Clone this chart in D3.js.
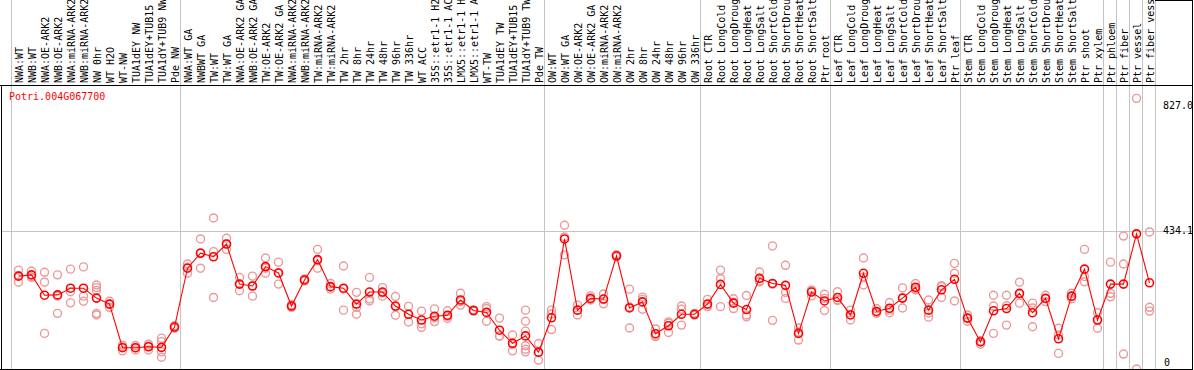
<!DOCTYPE html>
<html>
<head>
<meta charset="utf-8">
<script src="https://cdn.jsdelivr.net/npm/d3@7"></script>
<style>
html,body{margin:0;padding:0;background:#fff;}
svg{display:block;}
text{font-family:"DejaVu Sans Mono","Liberation Mono",monospace;}
</style>
</head>
<body>
<svg id="chart" width="1194" height="370"></svg>
<script>
const title = "Potri.004G067700";
const labels = [
"NWA:WT","NWB:WT","NWA:OE-ARK2","NWB:OE-ARK2","NWA:miRNA-ARK2","NWB:miRNA-ARK2","NW 0hr","WT H2O","WT-NW","TUA1dEY NW","TUA1dEY+TUB15 NW","TUA1dY+TUB9 NW","Pde NW",
"NWA:WT GA","NWBWT GA","TW:WT","TW:WT GA","NWA:OE-ARK2 GA","NWB:OE-ARK2 GA","TW:OE-ARK2","TW:OE-ARK2 GA","NWA:miRNA-ARK2 GA","NWB:miRNA-ARK2 GA","TW:miRNA-ARK2","TW:miRNA-ARK2 GA","TW 2hr","TW 8hr","TW 24hr","TW 48hr","TW 96hr","TW 336hr","WT ACC","35S::etr1-1 H2O","35S::etr1-1 ACC","LMX5::etr1-1 H2O","LMX5::etr1-1 ACC","WT-TW","TUA1dEY TW","TUA1dEY+TUB15 TW","TUA1dY+TUB9 TW","Pde TW",
"OW:WT","OW:WT GA","OW:OE-ARK2","OW:OE-ARK2 GA","OW:miRNA-ARK2","OW:miRNA-ARK2 GA","OW 2hr","OW 8hr","OW 24hr","OW 48hr","OW 96hr","OW 336hr",
"Root CTR","Root LongCold","Root LongDrought","Root LongHeat","Root LongSalt","Root ShortCold","Root ShortDrought","Root ShortHeat","Root ShortSalt","Ptr root",
"Leaf CTR","Leaf LongCold","Leaf LongDrought","Leaf LongHeat","Leaf LongSalt","Leaf ShortCold","Leaf ShortDrought","Leaf ShortHeat","Leaf ShortSalt","Ptr leaf",
"Stem CTR","Stem LongCold","Stem LongDrought","Stem LongHeat","Stem LongSalt","Stem ShortCold","Stem ShortDrought","Stem ShortHeat","Stem ShortSalt","Ptr shoot","Ptr xylem",
"Ptr phloem","Ptr fiber","Ptr vessel","Ptr fiber vessel"
];
const means = [
292,296,232,233,254,254,223,204,67,67,70,68,132,
317,364,353,393,267,261,322,302,198,280,344,259,254,204,242,242,198,172,154,166,169,217,184,178,122,81,104,53,
161,409,185,222,220,356,192,211,111,136,172,172,
204,266,207,187,285,269,263,112,242,214,
225,170,301,181,191,223,257,185,249,282,
160,85,183,190,238,177,222,95,229,314,154,
267,267,425,271
];
const replicates = [
[311,273,293],[308,288,290],[304,273,112],[296,175,229],[314,243,208],[321,229,213],[264,256,247,175,170],[213,194,204],[75,57,69],[74,60,67],[78,60,72],[97,86,37,54],[136,128,133],
[330,301,320],[409,317,366],[475,369,225],[411,376,393],[288,246,267],[292,229,261],[349,301,317],[336,267,302],[194,202,198],[283,277,280],[376,317,341],[269,251,257],[324,185,252],[241,194,172],[288,220,214],[256,229,239],[228,169,196],[197,148,172],[182,142,131],[189,149,161],[183,159,165],[238,201,212],[186,182,184],[196,150,190],[160,104,103],[107,57,77],[185,150,119,73,62,54],[80,28,51],
[185,124,173],[452,359,415],[201,170,185],[230,217,219],[236,205,219],[359,353,356],[251,129,195],[226,188,219],[126,102,105],[148,115,144],[198,188,138],[175,169,172],
[219,196,197],[311,284,196],[221,190,210],[231,170,164],[305,274,277],[387,153,267],[326,241,222],[129,91,116],[247,230,248],[235,184,222],
[243,217,216],[185,154,171],[349,264,289],[190,175,179],[209,177,185],[255,192,223],[269,249,253],[217,163,176],[262,225,259],[332,301,214],
[170,150,160],[78,88,88],[232,198,112],[232,138,199],[273,207,235],[207,133,192],[232,212,222],[128,49,107],[238,221,228],[376,274,291],[177,128,156],
[336,238,227],[418,330,47],[851,0],[431,194,182]
];
const yTickValues = [0, 434.1, 827.0];
const yTickLabels = ["0", "434.1", "827.0"];
const groupStarts = [0, 13, 41, 53, 63, 73, 84, 85, 86, 87, 88];

const W = 1194, H = 370;
const plotTop = 85, plotBottom = 369, left = 11, colW = 13;
const svg = d3.select("#chart");

const x = d3.scaleBand().domain(d3.range(labels.length)).range([left, left + colW * labels.length]).paddingInner(0).paddingOuter(0);
const px = i => x(i) + 7.5;
const y = d3.scaleLinear().domain([0, 893]).range([plotBottom, plotTop]);

// gridlines
const gridColor = "#c4c4c4";
svg.append("g").selectAll("line").data(groupStarts).join("line")
  .attr("x1", d => (d < labels.length ? x(d) : x(labels.length - 1) + colW) + 0.5)
  .attr("x2", d => (d < labels.length ? x(d) : x(labels.length - 1) + colW) + 0.5)
  .attr("y1", 0).attr("y2", H)
  .attr("stroke", gridColor).attr("stroke-width", 1).attr("shape-rendering", "crispEdges");

svg.append("line")
  .attr("x1", 1).attr("x2", 1192)
  .attr("y1", Math.round(y(434.1)) + 0.5).attr("y2", Math.round(y(434.1)) + 0.5)
  .attr("stroke", gridColor).attr("shape-rendering", "crispEdges");

// column labels
svg.append("g").selectAll("text").data(labels).join("text")
  .attr("transform", (d, i) => `translate(${px(i) + 0.5},83) rotate(-90)`)
  .attr("dy", "0.35em")
  .attr("font-size", 10)
  .attr("fill", "#000")
  .text(d => d);

// y tick labels
svg.append("g").selectAll("text").data(yTickValues).join("text")
  .attr("x", (d, i) => i === 0 ? 1164 : 1163)
  .attr("y", d => d === 0 ? plotBottom - 7 : y(d))
  .attr("dy", "0.35em")
  .attr("font-size", 10)
  .attr("fill", "#000")
  .text((d, i) => yTickLabels[i]);

// title
svg.append("text").attr("x", 9).attr("y", 100).attr("font-size", 10).attr("fill", "#ff0000").text(title);

// replicates
const repPts = [];
replicates.forEach((arr, i) => arr.forEach(v => repPts.push({i, v})));
svg.append("g").selectAll("circle").data(repPts).join("circle")
  .attr("cx", d => px(d.i)).attr("cy", d => y(d.v)).attr("r", 4)
  .attr("fill", "none").attr("stroke", "#eb9a9a").attr("stroke-width", 1.4);

// mean line
svg.append("path").datum(means)
  .attr("d", d3.line().x((d, i) => px(i)).y(d => y(d)))
  .attr("fill", "none").attr("stroke", "#ff0000").attr("stroke-width", 1.1);

svg.append("g").selectAll("circle").data(means).join("circle")
  .attr("cx", (d, i) => px(i)).attr("cy", d => y(d)).attr("r", 4)
  .attr("fill", "none").attr("stroke", "#ff0000").attr("stroke-width", 1.6);

// frame
const frame = svg.append("g").attr("stroke", "#000").attr("shape-rendering", "crispEdges");
frame.append("line").attr("x1", 0).attr("x2", 1193).attr("y1", plotTop + 0.5).attr("y2", plotTop + 0.5);
frame.append("line").attr("x1", 0).attr("x2", 1193).attr("y1", plotBottom + 0.5).attr("y2", plotBottom + 0.5);
frame.append("line").attr("x1", 1.5).attr("x2", 1.5).attr("y1", plotTop).attr("y2", H);
frame.append("line").attr("x1", 1192.5).attr("x2", 1192.5).attr("y1", 0).attr("y2", H);
frame.append("line").attr("x1", 1155).attr("x2", 1193).attr("y1", 0.5).attr("y2", 0.5);
</script>
</body>
</html>
